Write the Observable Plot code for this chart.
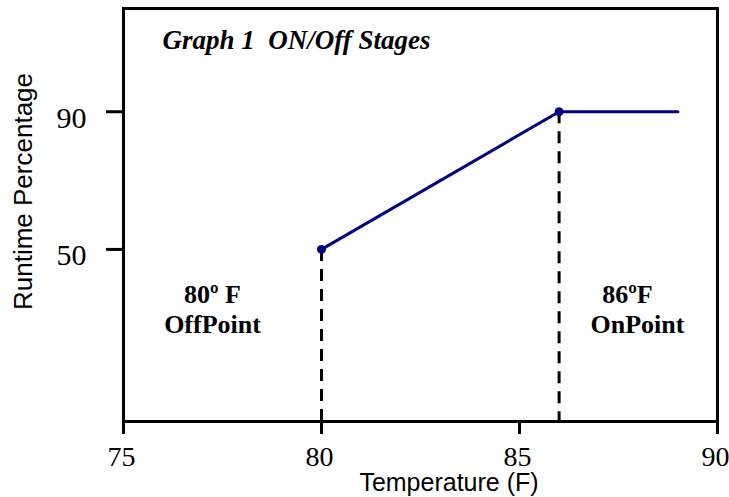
<!DOCTYPE html>
<html>
<head>
<meta charset="utf-8">
<script src="https://cdn.jsdelivr.net/npm/d3@7"></script>
<script src="https://cdn.jsdelivr.net/npm/@observablehq/plot@0.6"></script>
<style>
  html, body { margin: 0; padding: 0; background: #fff; }
  svg { overflow: visible; }
</style>
</head>
<body>
<div id="chart"></div>
<script>
// Data
const temps = [80, 86, 89];
const runtime = [50, 90, 90];
const stageTemps = [80, 86];
const stageValues = [50, 90];
const xTicks = [75, 80, 85, 90];
const yTicks = [50, 90];
const titleText = "Graph 1 \u00a0ON/Off Stages";
const xLabel = "Temperature (F)";
const yLabel = "Runtime Percentage";
const offLabel = "80\u00ba F\nOffPoint";
const onLabel1 = "86\u00baF";
const onLabel2 = "OnPoint";

const lineData = temps.map((t, i) => ({t, v: runtime[i]}));
const stageData = stageTemps.map((t, i) => ({t, v: stageValues[i]}));

const serif = "'Liberation Serif', 'Times New Roman', serif";
const sans = "'Liberation Sans', Arial, sans-serif";
const navy = "#000080";

const chart = Plot.plot({
  width: 729,
  height: 497,
  marginLeft: 123,
  marginRight: 12,
  marginTop: 8,
  marginBottom: 76,
  x: {domain: [75, 90]},
  y: {domain: [0, 120]},
  style: {background: "#fff", color: "black"},
  marks: [
    Plot.frame({stroke: "black", strokeWidth: 3}),
    Plot.axisX({ticks: xTicks, tickSize: 13, strokeWidth: 3, label: null, tickFormat: () => ""}),
    Plot.axisY({ticks: yTicks, tickSize: 17, strokeWidth: 3, label: null, tickFormat: () => ""}),
    Plot.text(xTicks, {x: d => d, frameAnchor: "bottom", dy: 44, dx: -2, textAnchor: "middle", lineAnchor: "bottom", fontSize: 28, fontFamily: serif, fill: "black", text: d => String(d)}),
    Plot.text(yTicks, {y: d => d, frameAnchor: "left", dx: -37, dy: 16, textAnchor: "end", lineAnchor: "bottom", fontSize: 30, fontFamily: serif, fill: "black", text: d => String(d)}),
    Plot.ruleX(stageData, {x: "t", y1: "v", y2: 0, stroke: "black", strokeWidth: 3, strokeDasharray: "12,8"}),
    Plot.line(lineData, {x: "t", y: "v", stroke: navy, strokeWidth: 3}),
    Plot.dot(stageData, {x: "t", y: "v", r: 4.5, fill: navy, stroke: "none"}),
    Plot.text([titleText], {frameAnchor: "top-left", dx: 39, dy: 40, textAnchor: "start", lineAnchor: "bottom", fontSize: 27, fontWeight: "bold", fontStyle: "italic", fontFamily: serif, fill: "black"}),
    Plot.text([offLabel], {frameAnchor: "top-left", dx: 89, dy: 324, textAnchor: "middle", lineAnchor: "bottom", lineHeight: 1.15, fontSize: 26, fontWeight: "bold", fontFamily: serif, fill: "black"}),
    Plot.text([onLabel1], {frameAnchor: "top-left", dx: 504, dy: 294, textAnchor: "middle", lineAnchor: "bottom", fontSize: 26, fontWeight: "bold", fontFamily: serif, fill: "black"}),
    Plot.text([onLabel2], {frameAnchor: "top-left", dx: 514, dy: 324, textAnchor: "middle", lineAnchor: "bottom", fontSize: 26, fontWeight: "bold", fontFamily: serif, fill: "black"}),
    Plot.text([xLabel], {frameAnchor: "top-left", dx: 325.5, dy: 482, textAnchor: "middle", lineAnchor: "bottom", fontSize: 25, fontFamily: sans, fill: "black"}),
    Plot.text([yLabel], {frameAnchor: "top-left", dx: -92, dy: 183, rotate: -90, textAnchor: "middle", lineAnchor: "bottom", fontSize: 26, fontFamily: sans, fill: "black"})
  ]
});
document.getElementById("chart").appendChild(chart);
</script>
</body>
</html>
